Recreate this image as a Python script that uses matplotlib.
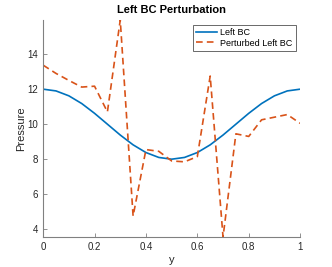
import matplotlib
matplotlib.use("Agg")
import matplotlib.pyplot as plt

plt.rcParams['font.family'] = ['Liberation Sans', 'DejaVu Sans']

y = [0, 0.05, 0.1, 0.15, 0.2, 0.25, 0.3, 0.35, 0.4, 0.45, 0.5,
     0.55, 0.6, 0.65, 0.7, 0.75, 0.8, 0.85, 0.9, 0.95, 1.0]
left_bc = [12.0, 11.9, 11.62, 11.18, 10.62, 10.0, 9.38, 8.82, 8.38, 8.1, 8.0,
           8.1, 8.38, 8.82, 9.38, 10.0, 10.62, 11.18, 11.62, 11.9, 12.0]
perturbed = [13.37, 12.9, 12.5, 12.12, 12.17, 10.7, 15.95, 4.75, 8.55, 8.45, 7.9,
             7.85, 8.15, 12.75, 3.55, 9.45, 9.3, 10.25, 10.4, 10.55, 10.05]

fig = plt.figure(figsize=(3.32, 2.67), dpi=100)
ax = fig.add_axes([0.130, 0.112, 0.774, 0.813])

ax.plot(y, left_bc, color='#0072BD', linewidth=1.2, label='Left BC')
ax.plot(y, perturbed, color='#D95319', linewidth=1.2, linestyle=(0, (4, 2.5)),
        label='Perturbed Left BC')

ax.set_xlim(0, 1)
ax.set_ylim(min(perturbed), max(perturbed))
ax.set_xticks([0, 0.2, 0.4, 0.6, 0.8, 1])
ax.set_xticklabels(['0', '0.2', '0.4', '0.6', '0.8', '1'])
ax.set_yticks([4, 6, 8, 10, 12, 14])

for s in ['top', 'right']:
    ax.spines[s].set_visible(False)
for s in ['left', 'bottom']:
    ax.spines[s].set_color('#808080')
    ax.spines[s].set_linewidth(0.8)
ax.tick_params(direction='in', length=3, width=0.6, colors='#808080',
               labelcolor='#262626', labelsize=7)

ax.set_xlabel('y', fontsize=8, color='#262626', labelpad=2)
ax.set_ylabel('Pressure', fontsize=8, color='#262626', labelpad=1)
ax.set_title('Left BC Perturbation', fontsize=8, fontweight='bold', pad=5)

leg = ax.legend(loc='upper right', fontsize=6.5, frameon=True, fancybox=False,
                handlelength=2.4, borderpad=0.35, labelspacing=0.2,
                handletextpad=0.3, bbox_to_anchor=(1.0, 1.0))
leg.get_frame().set_edgecolor('#262626')
leg.get_frame().set_linewidth(0.6)

fig.savefig('out.png', dpi=100)
